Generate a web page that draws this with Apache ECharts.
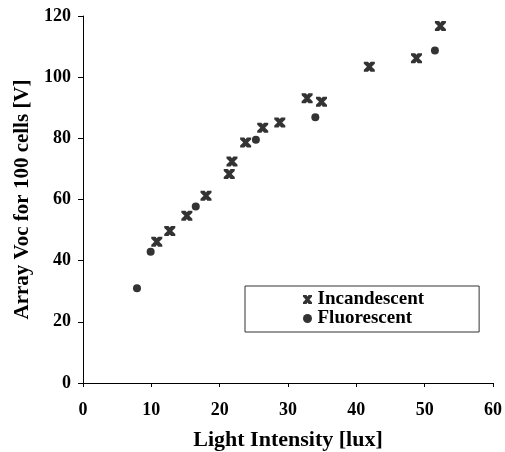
<!DOCTYPE html>
<html>
<head>
<meta charset="utf-8">
<script src="https://cdn.jsdelivr.net/npm/echarts@6/dist/echarts.min.js"></script>
<style>
  html, body { margin: 0; padding: 0; background: #fff; }
  #chart { width: 505px; height: 452px; }
</style>
</head>
<body>
<div id="chart"></div>
<script>
// light intensity [lux], array Voc [V]
var incandescentX = [10.8, 12.7, 15.2, 18.0, 21.4, 21.8, 23.8, 26.3, 28.8, 32.8, 34.9, 41.9, 48.8, 52.3];
var incandescentY = [46.2, 49.7, 54.7, 61.2, 68.3, 72.4, 78.6, 83.5, 85.2, 93.1, 92.0, 103.4, 106.2, 116.7];
var fluorescentX = [7.9, 9.9, 16.5, 25.3, 34.0, 51.5];
var fluorescentY = [31.0, 42.9, 57.7, 79.5, 86.9, 108.7];
var xTicks = [0, 10, 20, 30, 40, 50, 60];
var yTicks = [0, 20, 40, 60, 80, 100, 120];

var font = 'Liberation Serif';
var xMark = 'path://M0,0 L3.8,0 L5,1.6 L6.2,0 L10,0 L10,2 L7.2,5 L10,8 L10,10 L6.2,10 L5,8.4 L3.8,10 L0,10 L0,8 L2.8,5 L0,2 Z';

function pairs(xs, ys) {
  return xs.map(function (x, i) { return [x, ys[i]]; });
}

var chart = echarts.init(document.getElementById('chart'), null, { renderer: 'canvas' });
chart.setOption({
  animation: false,
  backgroundColor: '#fff',
  grid: { left: 83, right: 12, top: 16, bottom: 69, outerBoundsMode: 'none' },
  legend: {
    orient: 'vertical',
    left: 245,
    top: 286,
    padding: [4, 55, 4, 58],
    itemGap: 0,
    itemWidth: 10,
    itemHeight: 9,
    borderColor: '#333',
    borderWidth: 1,
    textStyle: { fontFamily: font, fontWeight: 'bold', fontSize: 19, lineHeight: 18, color: '#000' },
    data: ['Incandescent', 'Fluorescent']
  },
  xAxis: {
    type: 'value',
    min: xTicks[0],
    max: xTicks[xTicks.length - 1],
    interval: 10,
    name: 'Light Intensity [lux]',
    nameLocation: 'middle',
    nameGap: 46,
    nameTextStyle: { fontFamily: font, fontWeight: 'bold', fontSize: 22, color: '#000' },
    axisLine: { lineStyle: { color: '#000', width: 1 } },
    axisTick: { length: 4, lineStyle: { color: '#000' } },
    axisLabel: { margin: 18, fontFamily: font, fontWeight: 'bold', fontSize: 18, color: '#000' },
    splitLine: { show: false }
  },
  yAxis: {
    type: 'value',
    min: yTicks[0],
    max: yTicks[yTicks.length - 1],
    interval: 20,
    name: 'Array Voc for 100 cells [V]',
    nameLocation: 'middle',
    nameGap: 50,
    nameTextStyle: { fontFamily: font, fontWeight: 'bold', fontSize: 21, color: '#000' },
    axisLine: { lineStyle: { color: '#000', width: 1 } },
    axisTick: { length: 5, lineStyle: { color: '#000' } },
    axisLabel: { margin: 12, fontFamily: font, fontWeight: 'bold', fontSize: 18, color: '#000' },
    splitLine: { show: false }
  },
  series: [
    {
      name: 'Incandescent',
      type: 'scatter',
      symbol: xMark,
      symbolSize: [11, 10],
      itemStyle: { color: '#000' },
      data: pairs(incandescentX, incandescentY)
    },
    {
      name: 'Fluorescent',
      type: 'scatter',
      symbol: 'circle',
      symbolSize: 8,
      itemStyle: { color: '#000' },
      data: pairs(fluorescentX, fluorescentY)
    }
  ]
});
</script>
</body>
</html>
